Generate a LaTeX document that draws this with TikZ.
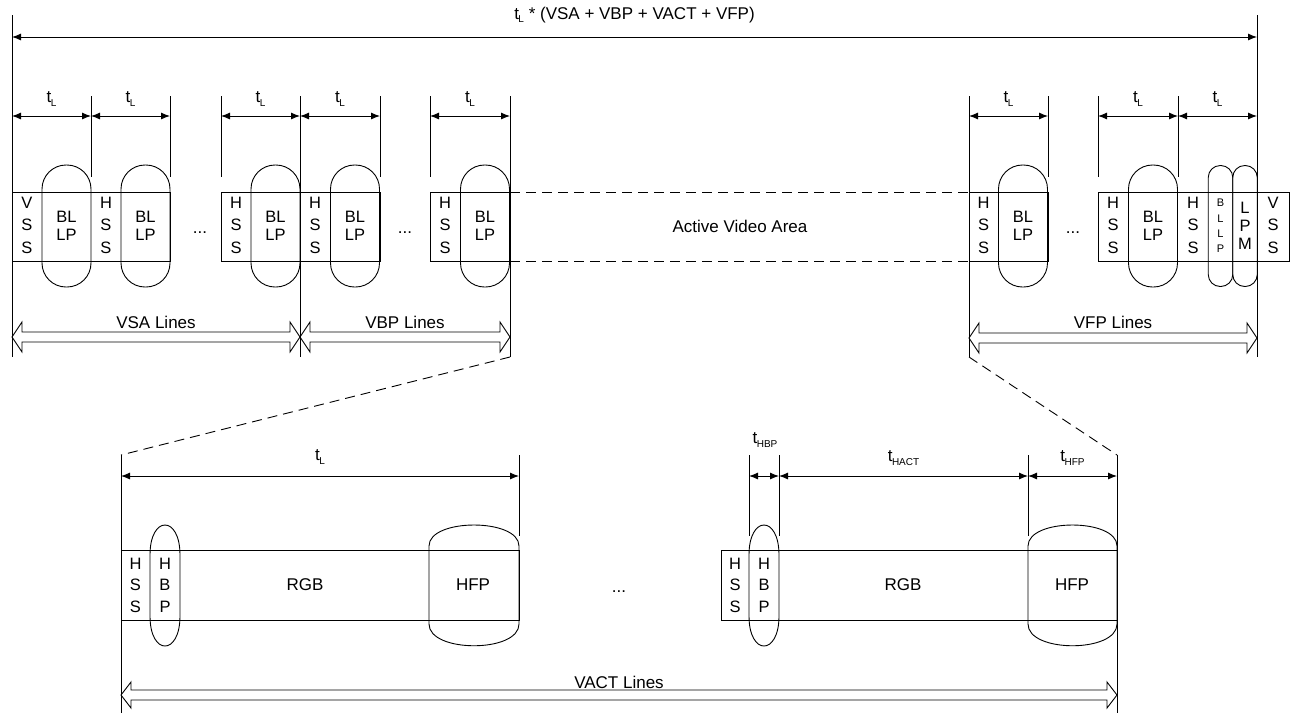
\documentclass[tikz,border=0pt]{standalone}
\usepackage{fontspec}
\setmainfont{Liberation Sans}
\usetikzlibrary{arrows.meta,calc}
\newcommand{\tsub}[1]{t\kern-0.03em\raisebox{-0.4ex}{\fontsize{10pt}{10pt}\selectfont #1}}
\newcommand{\hollowdbl}[4]{% x1 x2 y halfhead
  \draw[line join=miter] (#1,#3) -- ({#1+10},{#3-#4}) -- ({#1+10},{#3-5}) -- ({#2-10},{#3-5}) -- ({#2-10},{#3-#4}) -- (#2,#3) -- ({#2-10},{#3+#4}) -- ({#2-10},{#3+5}) -- ({#1+10},{#3+5}) -- ({#1+10},{#3+#4}) -- cycle;}
\newcommand{\hbpshape}[1]{% left x
  \draw (#1,555) .. controls (#1,515) and ({#1+30},515) .. ({#1+30},555) -- ({#1+30},616)
    .. controls ({#1+30},656) and (#1,656) .. (#1,616) -- cycle;}
\begin{document}
\begin{tikzpicture}[x=1pt,y=-1pt,line width=0.9pt,
  every node/.style={inner sep=0pt,outer sep=0pt},
  lab/.style={font=\fontsize{17pt}{20pt}\selectfont},
  stack/.style={font=\fontsize{16.5pt}{22.5pt}\selectfont,align=center},
  caps/.style={draw,rectangle,align=center,font=\fontsize{16.5pt}{18pt}\selectfont},
  bcap/.style={caps,minimum width=49pt,minimum height=122pt,rounded corners=24pt},
  scap/.style={caps,minimum width=24.5pt,minimum height=121pt,rounded corners=12pt},
  dim/.style={{Latex[length=9pt,width=7pt]}-{Latex[length=9pt,width=7pt]}},
  dashline/.style={dash pattern=on 10pt off 6pt}]
\useasboundingbox (0,0) rectangle (1292,713);

% ---- named tick coordinates (top) ----
\foreach \n/\x in {a/12,b/91,c/170,d/221,e/300,f/380,g/430,h/510,i/969,j/1048,k/1098,l/1178,m/1257}
  \coordinate (\n) at (\x,96);
\coordinate (yT) at (0,37);
\coordinate (yL) at (0,116);
\coordinate (yTop) at (0,15);
\coordinate (yBot) at (0,357);
\coordinate (yTick) at (0,177);

% long verticals
\foreach \n in {a,m} \draw (\n |- yTop) -- (\n |- yBot);
\foreach \n in {e,h,i} \draw (\n) -- (\n |- yBot);
% short ticks
\foreach \n in {b,c,d,f,g,j,k,l} \draw (\n) -- (\n |- yTick);

% overall dimension
\draw[dim] (a |- yT) -- node[lab,midway,yshift=22pt] (total) {\tsub{L} * (VSA + VBP + VACT + VFP)} (m |- yT);

% t_L dimensions
\foreach \p/\q in {a/b,b/c,d/e,e/f,g/h,i/j,k/l,l/m}
  \draw[dim] (\p |- yL) -- node[lab,midway,yshift=17pt] {\tsub{L}} (\q |- yL);

% ---- strips ----
\draw (12,192) rectangle (170,261);
\draw (221,192) rectangle (380,261);
\draw (430,192) rectangle (510,261);
\draw (969,192) rectangle (1048,261);
\draw (1098,192) rectangle (1289,261);
\draw[dashline] (510,192) -- (969,192);
\draw[dashline] (510,261) -- (969,261);

% capsules
\node[bcap] (c1) at (66.5,226) {BL\\LP};
\node[bcap] (c2) at (145.5,226) {BL\\LP};
\node[bcap] (c3) at (275.5,226) {BL\\LP};
\node[bcap] (c4) at (355,226) {BL\\LP};
\node[bcap] (c5) at (485,226) {BL\\LP};
\node[bcap] (c6) at (1023,226) {BL\\LP};
\node[bcap] (c7) at (1153,226) {BL\\LP};
\node[scap,font=\fontsize{11pt}{15.3pt}\selectfont] (c8) at (1220.5,226) {B\\L\\L\\P};
\node[scap] (c9) at (1245,226) {\fontsize{16.5pt}{22pt}\selectfont L\\P\\M};

% stacked letters
\node[stack] (s1) at (27,225) {V\\S\\S};
\node[stack] (s2) at (106,225) {H\\S\\S};
\node[stack] (s3) at (236,225) {H\\S\\S};
\node[stack] (s4) at (315,225) {H\\S\\S};
\node[stack] (s5) at (445,225) {H\\S\\S};
\node[stack] (s6) at (983.5,225) {H\\S\\S};
\node[stack] (s7) at (1113,225) {H\\S\\S};
\node[stack] (s8) at (1193,225) {H\\S\\S};
\node[stack] (s9) at (1273,225) {V\\S\\S};

% dots and active area
\node[lab] (d1) at (200,233) {...};
\node[lab] (d2) at (405,233) {...};
\node[lab] (d3) at (1073,233) {...};
\node[lab] (ava) at (740,226) {Active Video Area};

% hollow arrows top
\hollowdbl{12}{300}{337}{15}
\hollowdbl{300}{510}{337}{15}
\hollowdbl{969}{1257}{338}{15}
\node[lab] (vsa) at (156,322) {VSA Lines};
\node[lab] (vbp) at (405,322) {VBP Lines};
\node[lab] (vfp) at (1113,322) {VFP Lines};

% ---- bottom ----
\foreach \n/\x in {p/121,q/519,r/749,s/779,u/1028,v/1117}
  \coordinate (\n) at (\x,455);
\coordinate (yB) at (0,713);
\coordinate (yBT) at (0,536);
\coordinate (yBL) at (0,476);
\foreach \n in {p,v} \draw (\n) -- (\n |- yB);
\foreach \n in {q,r,s,u} \draw (\n) -- (\n |- yBT);

% zoom dashed lines
\draw[dashline] (h |- yBot) -- (p);
\draw[dashline] (i |- yBot) -- (v);

% bottom dimensions
\draw[dim] (p |- yBL) -- node[lab,midway,yshift=19pt] {\tsub{L}} (q |- yBL);
\draw[dim] (r |- yBL) -- (s |- yBL);
\node[lab] (thbp) at (765,440) {\tsub{HBP}};
\draw[dim] (s |- yBL) -- node[lab,midway,yshift=18pt] {\tsub{HACT}} (u |- yBL);
\draw[dim] (u |- yBL) -- node[lab,midway,yshift=18pt] {\tsub{HFP}} (v |- yBL);

% bottom strips
\draw (121,550) rectangle (519,620);
\draw (721,550) rectangle (1117,620);
\draw (429,546) .. controls (429,518) and (519,518) .. (519,546) -- (519,624)
  .. controls (519,653) and (429,653) .. (429,624) -- cycle;
\draw (1028,546) .. controls (1028,518) and (1117,518) .. (1117,546) -- (1117,624)
  .. controls (1117,653) and (1028,653) .. (1028,624) -- cycle;
\hbpshape{150}
\hbpshape{749}
\node[stack,font=\fontsize{16.5pt}{21.5pt}\selectfont] (hb1) at (165,585) {H\\B\\P};
\node[stack,font=\fontsize{16.5pt}{21.5pt}\selectfont] (hb2) at (764,585) {H\\B\\P};
\node[stack,font=\fontsize{16.5pt}{21.5pt}\selectfont] (hs1) at (135.5,585) {H\\S\\S};
\node[stack,font=\fontsize{16.5pt}{21.5pt}\selectfont] (hs2) at (735,585) {H\\S\\S};
\node[lab] (rgb1) at (305,585) {RGB};
\node[lab] (rgb2) at (903,585) {RGB};
\node[lab] (hfp1) at (473,585) {HFP};
\node[lab] (hfp2) at (1072,585) {HFP};
\node[lab] (d4) at (619,592) {...};

\hollowdbl{121}{1117}{695}{13}
\node[lab] (vact) at (619,682) {VACT Lines};
\end{tikzpicture}
\end{document}
